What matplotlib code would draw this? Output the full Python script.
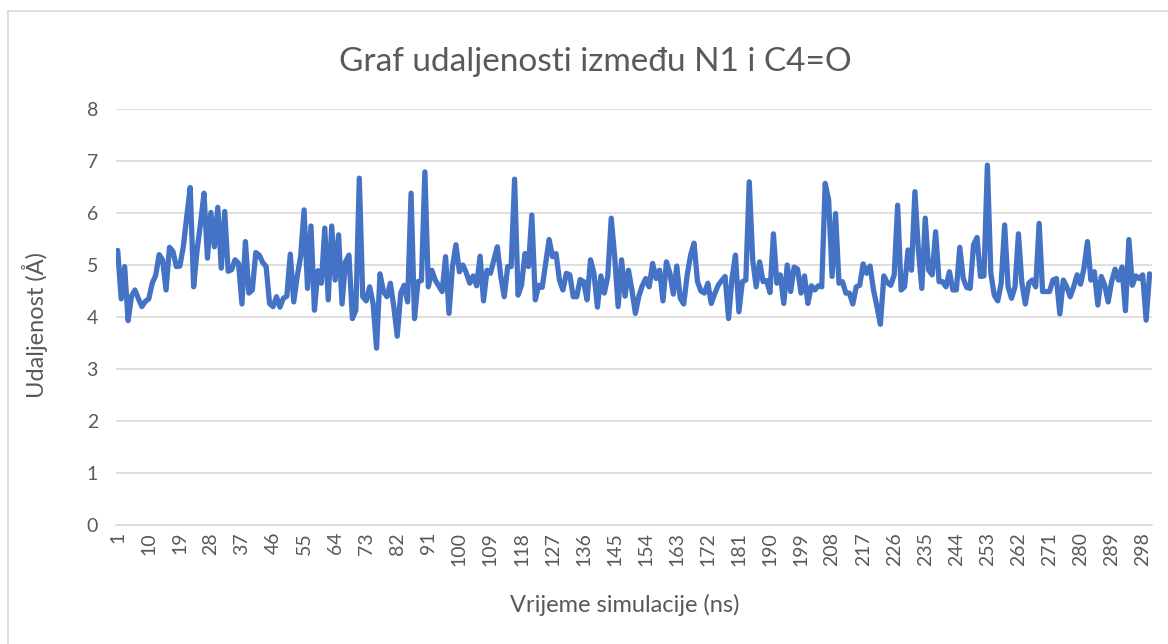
import matplotlib
matplotlib.use("Agg")
import matplotlib.pyplot as plt
from matplotlib.lines import Line2D

plt.rcParams['font.family'] = ['Lato', 'DejaVu Sans']

title = "Graf udaljenosti između N1 i C4=O"
x_label = "Vrijeme simulacije (ns)"
y_label = "Udaljenost (Å)"

time_ns = list(range(1, 301))
distance = [
    5.28, 4.35, 4.97, 3.93, 4.40, 4.52, 4.35, 4.20, 4.30, 4.35,
    4.65, 4.80, 5.20, 5.10, 4.52, 5.34, 5.26, 4.97, 4.98, 5.35,
    5.93, 6.49, 4.58, 5.29, 5.80, 6.38, 5.13, 6.01, 5.35, 6.11,
    4.94, 6.03, 4.88, 4.91, 5.10, 5.03, 4.25, 5.45, 4.46, 4.52,
    5.24, 5.19, 5.05, 4.97, 4.26, 4.20, 4.39, 4.19, 4.36, 4.40,
    5.21, 4.29, 4.78, 5.16, 6.06, 4.55, 5.75, 4.13, 4.89, 4.65,
    5.71, 4.33, 5.75, 4.71, 5.58, 4.25, 5.06, 5.19, 3.97, 4.13,
    6.67, 4.39, 4.31, 4.58, 4.26, 3.40, 4.83, 4.49, 4.39, 4.65,
    4.20, 3.63, 4.46, 4.61, 4.29, 6.38, 3.97, 4.68, 4.70, 6.79,
    4.58, 4.90, 4.71, 4.60, 4.49, 5.16, 4.07, 4.97, 5.39, 4.87,
    5.00, 4.85, 4.65, 4.79, 4.60, 5.17, 4.31, 4.90, 4.84, 5.10,
    5.35, 4.78, 4.39, 4.97, 4.97, 6.65, 4.42, 4.61, 5.22, 4.97,
    5.96, 4.33, 4.61, 4.57, 5.03, 5.49, 5.16, 5.22, 4.71, 4.52,
    4.84, 4.81, 4.39, 4.39, 4.72, 4.68, 4.33, 5.10, 4.84, 4.19,
    4.79, 4.46, 4.78, 5.90, 5.16, 4.20, 5.10, 4.40, 4.90, 4.52,
    4.07, 4.40, 4.60, 4.74, 4.58, 5.03, 4.74, 4.90, 4.31, 5.06,
    4.84, 4.44, 4.98, 4.36, 4.25, 4.80, 5.19, 5.42, 4.68, 4.50,
    4.46, 4.65, 4.26, 4.45, 4.61, 4.70, 4.78, 3.97, 4.74, 5.19,
    4.10, 4.68, 4.71, 6.60, 5.10, 4.58, 5.06, 4.68, 4.70, 4.47,
    5.60, 4.65, 4.81, 4.26, 5.00, 4.49, 4.96, 4.92, 4.46, 4.79,
    4.26, 4.60, 4.52, 4.60, 4.58, 6.57, 6.25, 4.78, 5.99, 4.65,
    4.68, 4.46, 4.46, 4.25, 4.58, 4.61, 5.02, 4.84, 4.98, 4.52,
    4.20, 3.86, 4.79, 4.66, 4.61, 4.81, 6.15, 4.52, 4.58, 5.29,
    4.90, 6.41, 5.29, 4.55, 5.90, 4.90, 4.81, 5.64, 4.68, 4.68,
    4.58, 4.87, 4.52, 4.52, 5.34, 4.74, 4.57, 4.55, 5.39, 5.53,
    4.78, 4.79, 6.92, 4.84, 4.42, 4.31, 4.65, 5.77, 4.58, 4.36,
    4.58, 5.60, 4.65, 4.25, 4.65, 4.71, 4.58, 5.80, 4.49, 4.49,
    4.49, 4.71, 4.74, 4.06, 4.71, 4.58, 4.39, 4.58, 4.81, 4.63,
    4.94, 5.45, 4.71, 4.87, 4.23, 4.78, 4.61, 4.29, 4.68, 4.92,
    4.71, 4.96, 4.12, 5.49, 4.61, 4.79, 4.74, 4.81, 3.94, 4.83,
]
x_ticks = list(range(1, 301, 9))
y_ticks = [0, 1, 2, 3, 4, 5, 6, 7, 8]

W, H = 1168, 644
fig = plt.figure(figsize=(W / 100, H / 100), dpi=100)
ax = fig.add_axes([116 / W, 1 - 525 / H, (1152 - 116) / W, (525 - 109) / H])

text_color = "#595959"
grid_color = "#d9d9d9"

ax.plot(time_ns, distance, color="#4472C4", linewidth=3.8,
        solid_joinstyle="round", solid_capstyle="round", zorder=3)

ax.set_xlim(0.5, 300.7)
ax.set_ylim(0, 8)
ax.set_yticks(y_ticks)
ax.set_xticks(x_ticks)
ax.set_xticklabels([str(t) for t in x_ticks], rotation=90)
ax.grid(axis="y", color=grid_color, linewidth=1.2)
ax.set_axisbelow(True)
for s in ["top", "right", "left"]:
    ax.spines[s].set_visible(False)
ax.spines["bottom"].set_color(grid_color)
ax.spines["bottom"].set_linewidth(1.2)
ax.tick_params(axis="both", length=0, colors=text_color, labelsize=14)
ax.tick_params(axis="y", pad=13)
ax.tick_params(axis="x", pad=5)

fig.text(595 / W, 1 - 62 / H, title, ha="center", va="center",
         fontsize=24, color=text_color)
fig.text(625 / W, 1 - 605 / H, x_label, ha="center", va="center",
         fontsize=17, color=text_color)
fig.text(35 / W, 1 - 325 / H, y_label, ha="center", va="center",
         fontsize=17, color=text_color, rotation=90)

# chart border
fig.add_artist(Line2D([8 / W, 1], [1 - 11 / H, 1 - 11 / H], transform=fig.transFigure,
                      color=grid_color, linewidth=1.2))
fig.add_artist(Line2D([8 / W, 8 / W], [0, 1 - 11 / H], transform=fig.transFigure,
                      color=grid_color, linewidth=1.2))

fig.savefig("out.png", dpi=100)
